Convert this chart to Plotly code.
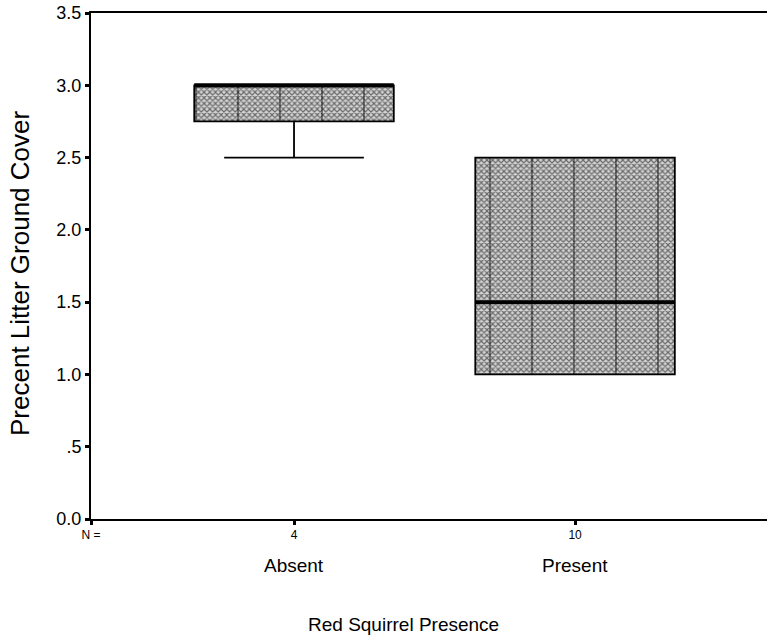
import plotly.graph_objects as go

# ---- data ----
categories = ["Absent", "Present"]
n_counts = ["4", "10"]
q1 = [2.75, 1.0]
median = [3.0, 1.5]
q3 = [3.0, 2.5]
lower_fence = [2.5, 1.0]
upper_fence = [3.0, 2.5]
y_tick_vals = [0.0, 0.5, 1.0, 1.5, 2.0, 2.5, 3.0, 3.5]
y_tick_text = ["0.0", ".5", "1.0", "1.5", "2.0", "2.5", "3.0", "3.5"]

FONT = "Arial, Liberation Sans, sans-serif"
BOX_W = 0.71
xpos = list(range(len(categories)))
X_MIN, X_MAX = -0.7224, 1.683

fig = go.Figure()

# patterned box fill (crosshatch)
fig.add_trace(go.Bar(
    x=xpos, y=[b - a for a, b in zip(q1, q3)], base=q1, width=BOX_W,
    marker=dict(color="#d4d4d4", line=dict(width=0),
                pattern=dict(shape="x", size=4, solidity=0.5, fgcolor="black")),
    hoverinfo="skip", showlegend=False))
# vertical stripes over the fill
fig.add_trace(go.Bar(
    x=xpos, y=[b - a for a, b in zip(q1, q3)], base=q1, width=BOX_W,
    marker=dict(color="rgba(0,0,0,0)", line=dict(width=0),
                pattern=dict(shape="|", size=42, solidity=0.04, fgcolor="black",
                             bgcolor="rgba(0,0,0,0)", fillmode="overlay")),
    hoverinfo="skip", showlegend=False))

# box outlines & whiskers
fig.add_trace(go.Box(
    x=xpos, q1=q1, median=median, q3=q3,
    lowerfence=lower_fence, upperfence=upper_fence,
    width=BOX_W, whiskerwidth=0.7, fillcolor="rgba(0,0,0,0)",
    line=dict(color="black", width=1.8), boxpoints=False,
    hoverinfo="skip", showlegend=False))

# thick median lines
for i, m in zip(xpos, median):
    fig.add_trace(go.Scatter(
        x=[i - BOX_W / 2, i + BOX_W / 2], y=[m, m], mode="lines",
        line=dict(color="black", width=4), hoverinfo="skip", showlegend=False))

# category names below N counts
for i, c in zip(xpos, categories):
    fig.add_annotation(x=i, xref="x", y=0, yref="paper", yshift=-46,
                       text=c, showarrow=False, yanchor="middle",
                       font=dict(family=FONT, size=19, color="black"))

fig.add_annotation(x=0.5, xref="paper", xshift=-26, y=0, yref="paper", yshift=-105,
                   text="Red Squirrel Presence", showarrow=False, yanchor="middle",
                   font=dict(family=FONT, size=19, color="black"))
fig.add_annotation(x=0, xref="paper", xshift=-71, y=0.5, yref="paper", yshift=-8,
                   text="Precent Litter Ground Cover", showarrow=False, textangle=-90,
                   xanchor="center", yanchor="middle",
                   font=dict(family=FONT, size=26, color="black"))

fig.update_layout(
    width=767, height=640, autosize=False,
    margin=dict(l=91, r=0, t=13, b=121),
    plot_bgcolor="white", paper_bgcolor="white",
    barmode="overlay", showlegend=False,
    font=dict(family=FONT, color="black"),
    xaxis=dict(range=[X_MIN, X_MAX], tickmode="array",
               tickvals=[X_MIN] + xpos, ticktext=["N ="] + n_counts,
               tickfont=dict(size=12), ticks="outside", ticklen=4, tickwidth=3,
               tickcolor="black", showline=True, linecolor="black", linewidth=2,
               mirror=True, showgrid=False, zeroline=False, fixedrange=True),
    yaxis=dict(range=[0, 3.5], tickmode="array", tickvals=y_tick_vals,
               ticktext=y_tick_text, tickfont=dict(size=18), ticks="outside",
               ticklen=4, tickwidth=3, tickcolor="black", showline=True,
               linecolor="black", linewidth=2, showgrid=False, zeroline=False,
               ticklabeloverflow="allow", fixedrange=True),
)

fig.write_html(
    "out.html",
    config={"displayModeBar": False},
    post_script="document.body.style.margin='0';document.body.style.overflow='hidden';",
)
